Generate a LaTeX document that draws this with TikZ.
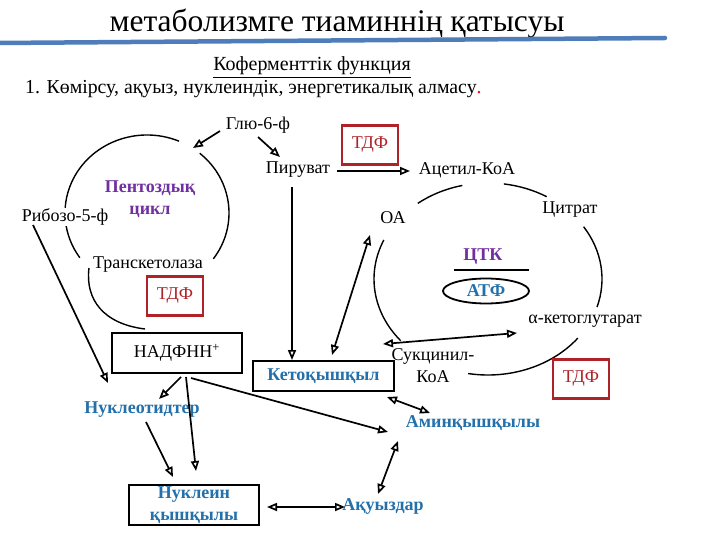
\documentclass[tikz,border=0pt]{standalone}
\usepackage{fontspec}
\setmainfont{Liberation Serif}
\usetikzlibrary{arrows.meta,shapes.geometric}
\definecolor{txtblue}{RGB}{35,112,170}
\definecolor{txtpurple}{RGB}{112,48,160}
\definecolor{tdfred}{RGB}{175,35,40}
\definecolor{rulebl}{RGB}{79,125,185}
\tikzset{
  lbl/.style={inner sep=1pt, font=\fontsize{18}{21}\selectfont},
  blbl/.style={inner sep=1pt, font=\fontsize{18}{21}\selectfont\bfseries, text=txtblue},
  plbl/.style={inner sep=1pt, font=\fontsize{18}{22}\selectfont\bfseries, text=txtpurple, align=center},
  tdfbox/.style={draw=tdfred, line width=2.4pt, text=tdfred, minimum width=56pt, minimum height=39pt, inner sep=0pt, font=\fontsize{18}{21}\selectfont},
  blackbox/.style={draw=black, line width=2pt, inner sep=0pt, font=\fontsize{18}{21}\selectfont},
  arcl/.style={line width=1.4pt},
  arr/.style={line width=1.7pt, -{Triangle[open,length=10pt,width=8pt]}},
  darr/.style={line width=1.7pt, {Triangle[open,length=10pt,width=8pt]}-{Triangle[open,length=10pt,width=8pt]}}
}
\begin{document}
\begin{tikzpicture}[x=1pt,y=-1pt]
\useasboundingbox (0,0) rectangle (720,540);
% header
\node[anchor=base, inner sep=0pt, font=\fontsize{31.5}{36}\selectfont] (title) at (337,32) {метаболизмге тиаминнің қатысуы};
\coordinate (ruleL) at (-2,43);
\coordinate (ruleR) at (665,38);
\draw[rulebl, line width=4.5pt, line cap=round] (ruleL) -- (ruleR);
\node[anchor=base, inner sep=0pt, font=\fontsize{20}{24}\selectfont] (sub) at (312,71) {\underline{Коферменттік функция}};
\node[anchor=base west, inner sep=0pt, font=\fontsize{19.8}{24}\selectfont] (l1) at (25,94) {1. Көмірсу, ақуыз, нуклеиндік, энергетикалық алмасу{\color{red}.}};

% pentose cycle
\draw[arcl] ([shift={(-67:82 and 78)}]147,213) arc[start angle=-67, end angle=-215, x radius=82, y radius=78];
\draw[arcl] ([shift={(-50:82 and 78)}]147,213) arc[start angle=-50, end angle=36, x radius=82, y radius=78];
\coordinate (tkL) at (89,268);
\coordinate (nadL) at (145,329);
\draw[arcl] (tkL) .. controls (85,300) and (104,324) .. (nadL);
\node[plbl] (pent) at (150,199) {Пентоздық\\цикл};
\node[lbl, fill=white] (rib) at (65,217) {Рибозо-5-ф};
\node[lbl] (tk) at (148,265) {Транскетолаза};
\node[tdfbox] (tdf2) at (175,296) {ТДФ};

% TCA cycle
\draw[arcl] ([shift={(-103:114 and 96)}]488,279) arc[start angle=-103, end angle=-128, x radius=114, y radius=96];
\draw[arcl] ([shift={(-59:114 and 96)}]488,279) arc[start angle=-59, end angle=-82, x radius=114, y radius=96];
\draw[arcl] ([shift={(-33:114 and 96)}]488,279) arc[start angle=-33, end angle=17, x radius=114, y radius=96];
\draw[arcl] ([shift={(38:114 and 96)}]488,279) arc[start angle=38, end angle=100, x radius=114, y radius=96];
\draw[arcl] ([shift={(-156:114 and 96)}]488,279) arc[start angle=-156, end angle=-220, x radius=114, y radius=96];

\node[lbl] (glu) at (258,125) {Глю-6-ф};
\node[lbl] (pir) at (298,170) {Пируват};
\node[lbl] (acet) at (467,170) {Ацетил-КоА};
\node[lbl] (oa) at (393,218) {ОА};
\node[lbl] (cit) at (570,210) {Цитрат};
\node[lbl] (akg) at (585,321) {α-кетоглутарат};
\node[lbl, align=center, font=\fontsize{18}{22}\selectfont] (suk) at (433,366) {Сукцинил-\\КоА};
\node[plbl] (ctk) at (483,257) {ЦТК};
\coordinate (ctkL) at (454,270);
\coordinate (ctkR) at (529,270);
\draw[line width=1.8pt] (ctkL) -- (ctkR);
\node[ellipse, draw, line width=1.8pt, minimum width=86pt, minimum height=25pt, inner sep=0pt, font=\fontsize{18}{21}\selectfont\bfseries, text=txtblue] (atf) at (486,291) {АТФ};
\node[tdfbox] (tdf1) at (370,145) {ТДФ};
\node[tdfbox] (tdf3) at (581,379) {ТДФ};

% boxes
\node[blackbox, minimum width=130pt, minimum height=40pt] (nad) at (177,353) {НАДФНН\textsuperscript{+}};
\node[blackbox, minimum width=141pt, minimum height=30pt, font=\fontsize{18}{21}\selectfont\bfseries, text=txtblue] (ket) at (323.5,376) {Кетоқышқыл};
\node[blackbox, minimum width=130pt, minimum height=40pt, align=center, font=\fontsize{18}{22}\selectfont\bfseries, text=txtblue] (nuk) at (194,505) {Нуклеин\\қышқылы};
\node[blbl] (ntd) at (142,410) {Нуклеотидтер};
\node[blbl] (amin) at (473,423) {Аминқышқылы};
\node[blbl] (akuy) at (383,506) {Ақуыздар};

% connector end points
\coordinate (gluA) at (220,131);
\coordinate (pentT) at (193,148);
\coordinate (gluB) at (258,137);
\coordinate (pirT) at (280,157);
\coordinate (pirR) at (337,171);
\coordinate (acetL) at (410,171);
\coordinate (pirB) at (292,187);
\coordinate (ketT) at (292,360);
\coordinate (oaB) at (370,235);
\coordinate (ketT2) at (332,355);
\coordinate (sukT) at (383,344);
\coordinate (akgL) at (517,333);
\coordinate (ketR) at (387,397);
\coordinate (aminL) at (430,413);
\coordinate (aminB) at (398,441);
\coordinate (akuyT) at (378,494);
\coordinate (nukR) at (267,507);
\coordinate (akuyL) at (345,507);
\coordinate (nadB1) at (181,377);
\coordinate (ntdT) at (159,399);
\coordinate (nadB2) at (186,377);
\coordinate (nukT) at (196,471);
\coordinate (nadB3) at (191,378);
\coordinate (aminW) at (388,432);
\coordinate (ntdB) at (146,422);
\coordinate (nukT2) at (173,477);
\coordinate (ribB) at (33,225);
\coordinate (ntdL) at (108,383);

\draw[arr] (gluA) -- (pentT);
\draw[arr] (gluB) -- (pirT);
\draw[arr] (pirR) -- (acetL);
\draw[arr] (pirB) -- (ketT);
\draw[darr] (oaB) -- (ketT2);
\draw[darr] (sukT) -- (akgL);
\draw[darr] (ketR) -- (aminL);
\draw[darr] (aminB) -- (akuyT);
\draw[darr] (nukR) -- (akuyL);
\draw[arr] (nadB1) -- (ntdT);
\draw[arr] (nadB2) -- (nukT);
\draw[arr] (nadB3) -- (aminW);
\draw[arr] (ntdB) -- (nukT2);
\draw[arr] (ribB) -- (ntdL);
\end{tikzpicture}
\end{document}
